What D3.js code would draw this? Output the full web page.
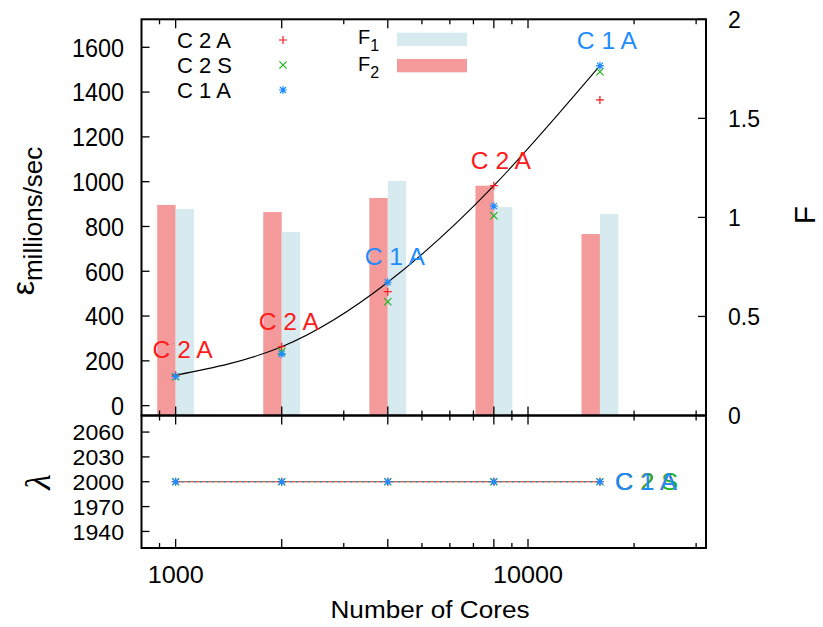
<!DOCTYPE html>
<html>
<head>
<meta charset="utf-8">
<script src="https://cdn.jsdelivr.net/npm/d3@7"></script>
<style>
  body { margin: 0; background: #fff; }
  svg { display: block; font-family: "Liberation Sans", Arial, sans-serif; }
</style>
</head>
<body>
<svg id="chart" width="823" height="627"></svg>
<script>
// data
var cores = [1000, 2000, 4000, 8000, 16000];
var c2a = [136, 263, 509, 982, 1365];
var c2s = [129, 241, 464, 848, 1491];
var c1a = [131, 231, 551, 891, 1518];
var f1 = [1.042, 0.926, 1.184, 1.052, 1.017];
var f2 = [1.063, 1.027, 1.098, 1.160, 0.916];
var lamC2A = [2000, 2000, 2000, 2000, 2000];
var lamC2S = [2000, 2000, 2000, 2000, 2000];
var lamC1A = [2000, 2000, 2000, 2000, 2000];

var epsTicks = [0, 200, 400, 600, 800, 1000, 1200, 1400, 1600];
var fTicks = [0, 0.5, 1, 1.5, 2];
var lamTicks = [1940, 1970, 2000, 2030, 2060];
var xLabelTicks = [1000, 10000];
var xLongTicks = [1000, 2000, 4000, 8000, 10000];
var xShortTicks = [900, 3000, 5000, 6000, 7000, 9000, 20000, 30000];

var red = "#ff1a1a", green = "#1fb21f", blue = "#1e8cff";
var barRed = "#f49a9a", barBlue = "#d6eaf0";

var series = [
    {name: "C 2 A", color: red, sym: "plus", eps: c2a, lam: lamC2A},
    {name: "C 2 S", color: green, sym: "cross", eps: c2s, lam: lamC2S},
    {name: "C 1 A", color: blue, sym: "star", eps: c1a, lam: lamC1A}
];

var plotLeft = 141.5, plotRight = 706, plotTop = 19.3, plotMid = 415.5, plotBottom = 548;
var svg = d3.select("#chart");

var x = d3.scaleLog().domain([800, 32000]).range([plotLeft, plotRight]);
var yEps = d3.scaleLinear().domain([-44, 1725]).range([plotMid, plotTop]);
var yF = d3.scaleLinear().domain([0, 2]).range([plotMid, plotTop]);
var yLam = d3.scaleLinear().domain([1920, 2080]).range([plotBottom, plotMid]);
var barRatio = 1.128;

var txt = function(g, s, px, py, size, anchor, sx, color) {
    return g.append("text")
        .attr("transform", "translate(" + px + "," + py + ") scale(" + (sx || 1) + ",1)")
        .attr("text-anchor", anchor || "start")
        .attr("font-size", size)
        .attr("fill", color || "#000")
        .text(s);
}

var marker = function(g, kind, px, py, color) {
    var p = d3.path(), a = 4;
    if (kind == "plus" || kind == "star") {
        p.moveTo(px - a, py); p.lineTo(px + a, py);
        p.moveTo(px, py - a); p.lineTo(px, py + a);
    }
    if (kind == "cross" || kind == "star") {
        var b = kind == "star" ? 3 : 3.6;
        p.moveTo(px - b, py - b); p.lineTo(px + b, py + b);
        p.moveTo(px - b, py + b); p.lineTo(px + b, py - b);
    }
    g.append("path").attr("d", p.toString())
        .attr("stroke", color).attr("stroke-width", 1.2).attr("fill", "none");
}

// bars (F axis)
var bars = svg.append("g");
bars.selectAll("rect.f2").data(cores).enter().append("rect")
    .attr("x", function(d) { return x(d / barRatio); })
    .attr("width", function(d) { return x(d) - x(d / barRatio); })
    .attr("y", function(d, i) { return yF(f2[i]); })
    .attr("height", function(d, i) { return yF(0) - yF(f2[i]); })
    .attr("fill", barRed);
bars.selectAll("rect.f1").data(cores).enter().append("rect")
    .attr("x", function(d) { return x(d); })
    .attr("width", function(d) { return x(d * barRatio) - x(d); })
    .attr("y", function(d, i) { return yF(f1[i]); })
    .attr("height", function(d, i) { return yF(0) - yF(f1[i]); })
    .attr("fill", barBlue);

// best-of line with winner labels
var best = cores.map(function(c, i) {
    var w = series[0];
    series.forEach(function(s) { if (s.eps[i] > w.eps[i]) w = s; });
    return {c: c, v: w.eps[i], s: w};
});
svg.append("path")
    .datum(best)
    .attr("d", d3.line()
        .x(function(d) { return x(d.c); })
        .y(function(d) { return yEps(d.v); })
        .curve(d3.curveNatural))
    .attr("fill", "none").attr("stroke", "#000").attr("stroke-width", 1.1);

series.forEach(function(s) {
    cores.forEach(function(c, i) { marker(svg, s.sym, x(c), yEps(s.eps[i]), s.color); });
});
best.forEach(function(d) {
    txt(svg, d.s.name, x(d.c) + 7, yEps(d.v) - 17, 23, "middle", 1.07, d.s.color);
});

// lambda panel
var dashes = ["none", "3,3", "2,4"];
series.forEach(function(s, k) {
    svg.append("path")
        .datum(s.lam)
        .attr("d", d3.line()
            .x(function(d, i) { return x(cores[i]); })
            .y(function(d) { return yLam(d); }))
        .attr("fill", "none").attr("stroke", s.color).attr("stroke-width", 1)
        .attr("stroke-dasharray", dashes[k]);
});
series.forEach(function(s) {
    cores.forEach(function(c, i) { marker(svg, s.sym, x(c), yLam(s.lam[i]), s.color); });
});
series.forEach(function(s) {
    var n = cores.length - 1;
    txt(svg, s.name, x(cores[n]) + 15, yLam(s.lam[n]) + 8.5, 23, "start", 1.1, s.color);
});

// frames and ticks
var axes = svg.append("g").attr("stroke", "#000");
[[plotTop, plotMid], [plotMid, plotBottom]].forEach(function(p) {
    axes.append("rect").attr("x", plotLeft).attr("y", p[0])
        .attr("width", plotRight - plotLeft).attr("height", p[1] - p[0])
        .attr("fill", "none").attr("stroke-width", 2);
    [[xLongTicks, 9], [xShortTicks, 5]].forEach(function(t) {
        t[0].forEach(function(v) {
            axes.append("line").attr("x1", x(v)).attr("x2", x(v))
                .attr("y1", p[0]).attr("y2", p[0] + t[1]).attr("stroke-width", 1.3);
            axes.append("line").attr("x1", x(v)).attr("x2", x(v))
                .attr("y1", p[1]).attr("y2", p[1] - t[1]).attr("stroke-width", 1.3);
        });
    });
});
epsTicks.forEach(function(v) {
    axes.append("line").attr("x1", plotLeft).attr("x2", plotLeft + 8)
        .attr("y1", yEps(v)).attr("y2", yEps(v)).attr("stroke-width", 1.3);
    txt(svg, v, 124, yEps(v) + 9.3, 26, "end", 0.9);
});
fTicks.forEach(function(v) {
    axes.append("line").attr("x1", plotRight).attr("x2", plotRight - 8)
        .attr("y1", yF(v)).attr("y2", yF(v)).attr("stroke-width", 1.3);
    txt(svg, v, 728, yF(v) + 8.3, 23, "start");
});
lamTicks.forEach(function(v) {
    axes.append("line").attr("x1", plotLeft).attr("x2", plotLeft + 8)
        .attr("y1", yLam(v)).attr("y2", yLam(v)).attr("stroke-width", 1.3);
    txt(svg, v, 124, yLam(v) + 8.2, 22, "end", 1.05);
});
xLabelTicks.forEach(function(v) {
    txt(svg, v, x(v), 583, 24, "middle", 1.05);
});

// axis titles
var yl = svg.append("text")
    .attr("transform", "translate(34,221) rotate(-90)")
    .attr("text-anchor", "middle").attr("font-size", 32);
yl.append("tspan").text("ε");
yl.append("tspan").attr("font-size", 26).attr("dy", 8).text("millions/sec");
svg.append("text")
    .attr("transform", "translate(50,482) rotate(-90)")
    .attr("text-anchor", "middle").attr("font-size", 36)
    .attr("font-family", "Liberation Serif").attr("font-style", "italic")
    .text("λ");
svg.append("text")
    .attr("transform", "translate(815,215) rotate(-90)")
    .attr("text-anchor", "middle").attr("font-size", 30)
    .text("F");
txt(svg, "Number of Cores", 430, 618, 24, "middle", 1.09);

// legend
var lg = svg.append("g");
series.forEach(function(s, i) {
    txt(lg, s.name, 177, 48.3 + i * 25, 22, "start");
    marker(lg, s.sym, 283, 40 + i * 25, s.color);
});
[["1", barBlue], ["2", barRed]].forEach(function(d, i) {
    var t = lg.append("text").attr("x", 358).attr("y", 44.3 + i * 26.4)
        .attr("font-size", 20);
    t.append("tspan").text("F");
    t.append("tspan").attr("font-size", 16).attr("dy", 7).text(d[0]);
    lg.append("rect").attr("x", 397).attr("y", 32.7 + i * 26.3)
        .attr("width", 70).attr("height", 13.3).attr("fill", d[1]);
});
</script>
</body>
</html>
